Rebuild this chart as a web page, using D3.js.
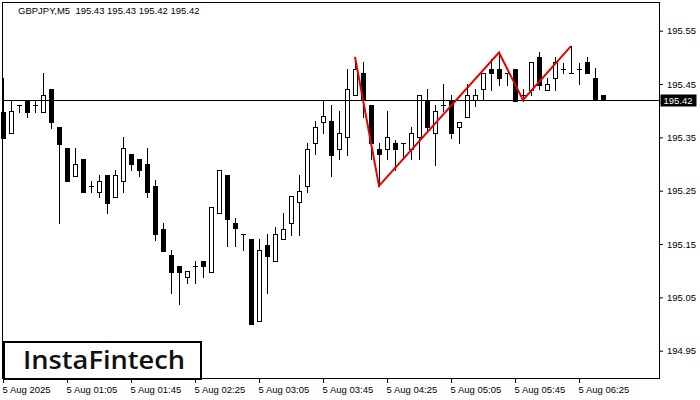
<!DOCTYPE html>
<html><head><meta charset="utf-8">
<script src="https://cdn.jsdelivr.net/npm/d3@7"></script>
<style>body{margin:0;background:#fff}svg{display:block}</style>
</head><body>
<svg id="c" width="700" height="400"></svg>
<script>
const symbolTitle = "GBPJPY,M5  195.43 195.43 195.42 195.42";
const times = ["00:25","00:30","00:35","00:40","00:45","00:50","00:55","01:00","01:05","01:10","01:15","01:20",
"01:25","01:30","01:35","01:40","01:45","01:50","01:55","02:00","02:05","02:10","02:15","02:20",
"02:25","02:30","02:35","02:40","02:45","02:50","02:55","03:00","03:05","03:10","03:15","03:20",
"03:25","03:30","03:35","03:40","03:45","03:50","03:55","04:00","04:05","04:10","04:15","04:20",
"04:25","04:30","04:35","04:40","04:45","04:50","04:55","05:00","05:05","05:10","05:15","05:20",
"05:25","05:30","05:35","05:40","05:45","05:50","05:55","06:00","06:05","06:10","06:15","06:20",
"06:25","06:30","06:35","06:40"];
const opens = [195.398,195.359,195.411,195.419,195.411,195.398,195.441,195.369,195.330,195.278,195.309,195.259,
195.248,195.279,195.239,195.269,195.319,195.309,195.300,195.259,195.179,195.129,195.109,195.088,
195.109,195.118,195.098,195.209,195.279,195.189,195.168,195.159,195.006,195.148,195.118,195.159,
195.189,195.228,195.258,195.339,195.379,195.381,195.329,195.350,195.429,195.471,195.411,195.329,
195.329,195.339,195.339,195.329,195.350,195.420,195.359,195.411,195.420,195.369,195.389,195.420,
195.440,195.479,195.479,195.470,195.479,195.429,195.438,195.500,195.439,195.461,195.479,195.470,
195.479,195.491,195.461,195.429];
const highs = [195.461,195.419,195.411,195.420,195.419,195.471,195.441,195.369,195.330,195.330,195.309,195.269,
195.279,195.279,195.289,195.351,195.319,195.309,195.330,195.270,195.189,195.138,195.109,195.099,
195.118,195.118,195.219,195.289,195.279,195.199,195.168,195.159,195.159,195.169,195.181,195.209,
195.240,195.279,195.339,195.381,195.419,195.411,195.400,195.479,195.501,195.492,195.411,195.339,
195.399,195.345,195.339,195.369,195.429,195.440,195.411,195.450,195.429,195.379,195.450,195.440,
195.470,195.497,195.509,195.470,195.479,195.440,195.491,195.511,195.461,195.500,195.490,195.521,
195.490,195.500,195.481,195.429];
const lows = [195.349,195.359,195.398,195.389,195.398,195.398,195.368,195.189,195.269,195.278,195.248,195.248,
195.239,195.209,195.239,195.248,195.289,195.278,195.239,195.157,195.137,195.058,195.037,195.077,
195.077,195.088,195.098,195.209,195.147,195.147,195.138,195.000,195.006,195.058,195.118,195.159,
195.167,195.167,195.248,195.318,195.359,195.277,195.309,195.317,195.429,195.389,195.309,195.259,
195.309,195.289,195.309,195.309,195.309,195.361,195.298,195.399,195.349,195.339,195.389,195.409,
195.420,195.439,195.448,195.449,195.419,195.419,195.429,195.440,195.439,195.439,195.470,195.470,
195.450,195.470,195.420,195.420];
const closes = [195.349,195.399,195.411,195.398,195.411,195.429,195.379,195.338,195.269,195.300,195.248,195.259,
195.269,195.227,195.279,195.330,195.300,195.289,195.248,195.168,195.137,195.098,195.098,195.099,
195.109,195.108,195.219,195.289,195.197,195.180,195.168,195.000,195.139,195.128,195.168,195.179,
195.240,195.249,195.329,195.369,195.390,195.317,195.359,195.440,195.479,195.420,195.339,195.318,
195.350,195.329,195.339,195.359,195.429,195.369,195.399,195.411,195.359,195.379,195.429,195.429,
195.470,195.470,195.461,195.470,195.419,195.429,195.491,195.449,195.450,195.491,195.479,195.470,
195.479,195.470,195.420,195.420];
const yTicks = [195.55,195.45,195.35,195.25,195.15,195.05,194.95];
const xTickTimes = ["00:25","01:05","01:45","02:25","03:05","03:45","04:25","05:05","05:45","06:25"];
const xTickLabels = ["5 Aug 2025","5 Aug 01:05","5 Aug 01:45","5 Aug 02:25","5 Aug 03:05","5 Aug 03:45","5 Aug 04:25","5 Aug 05:05","5 Aug 05:45","5 Aug 06:25"];
const patternTimes = ["04:05","04:20","05:35","05:50","06:20"];
const patternPrices = [195.501,195.259,195.509,195.420,195.521];
const lastPrice = 195.42;
const brand = "InstaFintech";

const svg = d3.select("#c");
const FONT = "'Liberation Sans', Arial, sans-serif";
const FS = 9.5;
const x = d3.scalePoint().domain(times).range([3, 603]);
const y = d3.scaleLinear().domain([194.95, 195.55]).range([350.7, 30.7]);
const L = 2.5, R = 659.5, T = 2.5, B = 378.5;

// frame
svg.append("rect").attr("x", L).attr("y", T).attr("width", R - L).attr("height", B - T)
  .attr("fill", "none").attr("stroke", "#000").attr("stroke-width", 1);

// title
svg.append("text").attr("x", 18).attr("y", 14).attr("font-family", FONT).attr("font-size", FS)
  .style("white-space", "pre").attr("fill", "#000").text(symbolTitle);

const data = times.map((t, i) => ({t, o: opens[i], h: highs[i], l: lows[i], c: closes[i]}));
const g = svg.append("g").attr("shape-rendering", "crispEdges");

// wicks
g.selectAll("line.w").data(data).join("line").attr("class", "w")
  .attr("x1", d => Math.round(x(d.t)) + 0.5).attr("x2", d => Math.round(x(d.t)) + 0.5)
  .attr("y1", d => Math.round(y(d.h))).attr("y2", d => Math.round(y(d.l)) + 1)
  .attr("stroke", "#000");

// bodies
data.forEach(d => {
  const cx = Math.round(x(d.t));
  const top = Math.round(y(Math.max(d.o, d.c)));
  const bot = Math.round(y(Math.min(d.o, d.c)));
  if (bot - top < 2) {
    g.append("line").attr("x1", cx - 2).attr("x2", cx + 3)
      .attr("y1", top + 0.5).attr("y2", top + 0.5).attr("stroke", "#000");
  } else if (d.c < d.o) {
    g.append("rect").attr("x", cx - 2).attr("y", top).attr("width", 5).attr("height", bot - top + 1)
      .attr("fill", "#000");
  } else {
    g.append("rect").attr("x", cx - 1.5).attr("y", top + 0.5).attr("width", 4).attr("height", bot - top)
      .attr("fill", "#fff").attr("stroke", "#000");
  }
});

// price line
svg.append("line").attr("x1", L).attr("x2", R)
  .attr("y1", Math.round(y(lastPrice)) + 0.5).attr("y2", Math.round(y(lastPrice)) + 0.5)
  .attr("stroke", "#000").attr("shape-rendering", "crispEdges");

// pattern
const pts = patternTimes.map((t, i) => [x(t), y(patternPrices[i])]);
svg.append("path").attr("d", d3.line()(pts)).attr("fill", "none")
  .attr("stroke", "#e50000").attr("stroke-width", 2).attr("stroke-linejoin", "miter");

// right axis
const ya = svg.append("g").attr("transform", `translate(${R - 0.5},0)`)
  .call(d3.axisRight(y).tickValues(yTicks).tickSize(4).tickPadding(4).tickFormat(d3.format(".2f")));
ya.select(".domain").remove();
ya.selectAll("text").attr("font-family", FONT).attr("font-size", FS).attr("fill", "#000");
ya.selectAll("line").attr("stroke", "#000");

// bottom axis
const xa = svg.append("g").attr("transform", `translate(0,${B - 0.5})`)
  .call(d3.axisBottom(x).tickValues(xTickTimes).tickSize(5).tickPadding(3)
    .tickFormat((d, i) => xTickLabels[i]));
xa.select(".domain").remove();
xa.selectAll("text").attr("font-family", FONT).attr("font-size", FS).attr("fill", "#000")
  .attr("text-anchor", "start").attr("dx", -1);
xa.selectAll("line").attr("stroke", "#000");

// last price label
const py = Math.round(y(lastPrice));
svg.append("rect").attr("x", R + 1).attr("y", py - 5.5).attr("width", 36).attr("height", 12).attr("fill", "#000");
svg.append("text").attr("x", R + 4).attr("y", py + 4).attr("font-family", FONT).attr("font-size", FS)
  .attr("fill", "#fff").text(d3.format(".2f")(lastPrice));

// logo
svg.append("rect").attr("x", 4).attr("y", 342).attr("width", 197).attr("height", 37)
  .attr("fill", "#fff").attr("stroke", "#000").attr("stroke-width", 2);
svg.append("text").attr("x", 23).attr("y", 369).attr("font-family", "'Open Sans', sans-serif")
  .attr("font-size", 26).attr("font-weight", 600).attr("fill", "#111")
  .attr("textLength", 162).attr("lengthAdjust", "spacingAndGlyphs").text(brand);
</script>
</body></html>
